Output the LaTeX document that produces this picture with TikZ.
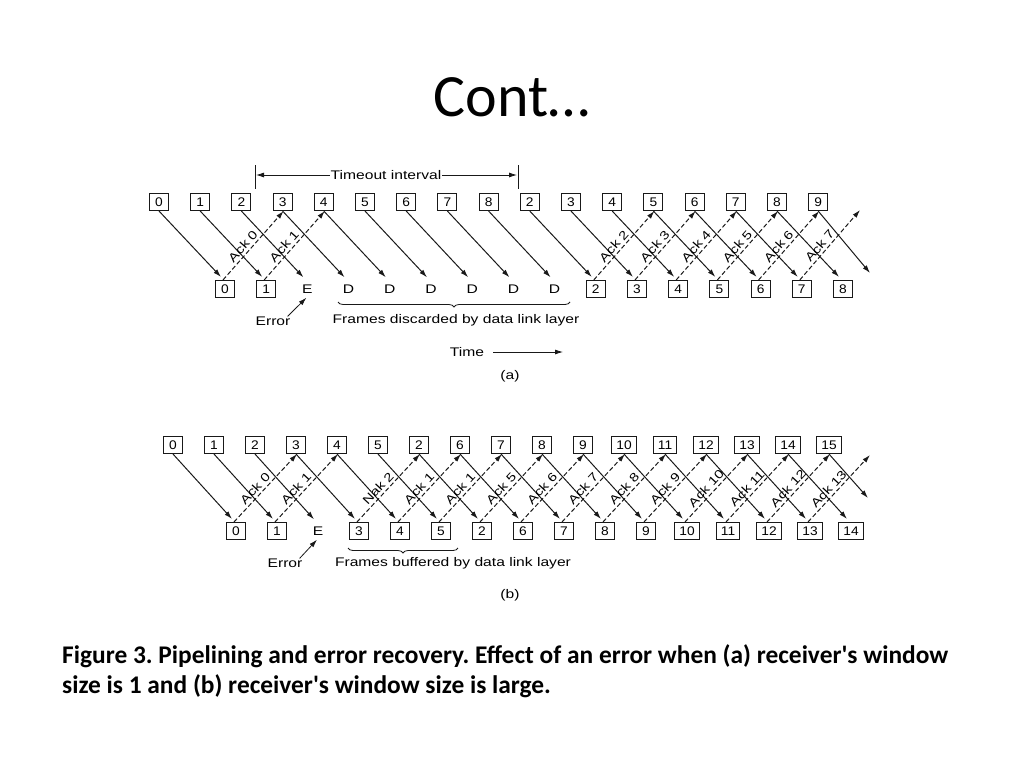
\documentclass[tikz,border=0pt]{standalone}
\usepackage{fontspec}
\setmainfont{Carlito}
\newfontfamily\labfont[FakeStretch=1.25]{Liberation Sans}
\newfontfamily\digfont[FakeStretch=1.1]{Liberation Sans}
\usetikzlibrary{arrows.meta,decorations.pathreplacing}
\frenchspacing
\begin{document}
\begin{tikzpicture}[x=1pt,y=-1pt,
  frm/.style={draw=black!90,line width=1.1pt,minimum width=19pt,minimum height=17pt,inner xsep=4.5pt,inner ysep=0pt,font=\digfont\fontsize{12.5}{13}\selectfont},
  lett/.style={minimum width=19pt,minimum height=17pt,inner sep=0pt,font=\labfont\fontsize{12.5}{14}\selectfont},
  lab/.style={font=\labfont\fontsize{12.5}{14}\selectfont,inner sep=1pt},
  sarr/.style={draw=black!90,line width=1pt,-{Latex[length=8pt,width=5pt]}},
  darr/.style={sarr,dash pattern=on 4.5pt off 2.5pt},
  ack/.style={font=\labfont\fontsize{12}{13}\selectfont,sloped,above=2pt,pos=0.42,inner sep=0.5pt},
  brc/.style={draw=black!90,line width=0.8pt,decorate,decoration={brace,mirror,amplitude=5pt}},
  capt/.style={anchor=base west,inner sep=0pt,font=\bfseries\fontsize{25.4}{30}\selectfont}]
\useasboundingbox (0,0) rectangle (1024,768);

% title
\node (title) at (512,97) {\fontsize{60}{72}\selectfont Cont\ldots};

% ---------------- (a) ----------------
\foreach \lab [count=\i from 0] in {0,1,2,3,4,5,6,7,8,2,3,4,5,6,7,8,9}
  \node[frm] (ta\i) at ({159+41.2*\i},202) {\lab};
\foreach \lab/\s [count=\i from 0] in {0/frm,1/frm,E/lett,D/lett,D/lett,D/lett,D/lett,D/lett,D/lett,2/frm,3/frm,4/frm,5/frm,6/frm,7/frm,8/frm}
  \node[\s] (ba\i) at ({225+41.2*\i},289) {\lab};
\foreach \i in {0,...,15}
  \draw[sarr] (ta\i.south) -- ([shift={(-4pt,3pt)}]ba\i.north);
\coordinate (ea) at (870,273);
\draw[sarr] (ta16.south) -- (ea);
\foreach \k/\n in {0/0,1/1,9/2,10/3,11/4,12/5,13/6}{
  \pgfmathtruncatemacro\j{\k+3}
  \draw[darr] ([xshift=-2pt]ba\k.north) -- node[ack]{Ack \n} ([xshift=1pt]ta\j.south);
}
\coordinate (fa) at (860,210);
\draw[darr] ([xshift=-2pt]ba14.north) -- node[ack]{Ack 7} (fa);

% timeout interval
\coordinate (tl1) at (255,165); \coordinate (tl2) at (255,189);
\coordinate (tr1) at (518,165); \coordinate (tr2) at (518,189);
\draw[draw=black!90,line width=1pt] (tl1) -- (tl2);
\draw[draw=black!90,line width=1pt] (tr1) -- (tr2);
\node[lab] (tout) at (386,175) {Timeout interval};
\coordinate (tla) at (256,175); \coordinate (tra) at (517,175);
\draw[sarr,line width=0.8pt] (tout.west) -- (tla);
\draw[sarr,line width=0.8pt] (tout.east) -- (tra);

% error / brace / time
\node[lab] (erra) at (273,321) {Error};
\draw[sarr,line width=0.8pt] ([shift={(-4pt,-1pt)}]erra.north east) -- ([xshift=-1pt]ba2.south);
\coordinate (bra1) at (338,302); \coordinate (bra2) at (570,302);
\draw[brc] (bra1) -- (bra2);
\node[lab] (fda) at (456,320) {Frames discarded by data link layer};
\node[lab] (time) at (467,352) {Time};
\coordinate (te) at (563,352);
\draw[sarr,line width=0.8pt] ([xshift=8pt]time.east) -- (te);
\node[lab] (capa) at (510,376) {(a)};

% ---------------- (b) ----------------
\foreach \lab [count=\i from 0] in {0,1,2,3,4,5,2,6,7,8,9,10,11,12,13,14,15}
  \node[frm] (tb\i) at ({173+41*\i},445) {\lab};
\foreach \lab/\s [count=\i from 0] in {0/frm,1/frm,E/lett,3/frm,4/frm,5/frm,2/frm,6/frm,7/frm,8/frm,9/frm,10/frm,11/frm,12/frm,13/frm,14/frm}
  \node[\s] (bb\i) at ({236+41*\i},531) {\lab};
\foreach \i in {0,...,15}
  \draw[sarr] (tb\i.south) -- ([shift={(-4pt,3pt)}]bb\i.north);
\coordinate (eb) at (868,498);
\draw[sarr] (tb16.south) -- (eb);
\foreach \k/\n in {0/Ack 0,1/Ack 1,3/Nak 2,4/Ack 1,5/Ack 1,6/Ack 5,7/Ack 6,8/Ack 7,9/Ack 8,10/Ack 9,11/Ack 10,12/Ack 11,13/Ack 12}{
  \pgfmathtruncatemacro\j{\k+3}
  \draw[darr] ([xshift=-2pt]bb\k.north) -- node[ack]{\n} ([xshift=1pt]tb\j.south);
}
\coordinate (fb) at (870,455);
\draw[darr] ([xshift=-2pt]bb14.north) -- node[ack]{Ack 13} (fb);

\node[lab] (errb) at (285,563) {Error};
\draw[sarr,line width=0.8pt] ([shift={(-4pt,-1pt)}]errb.north east) -- ([xshift=-1pt]bb2.south);
\coordinate (brb1) at (348,548); \coordinate (brb2) at (458,548);
\draw[brc] (brb1) -- (brb2);
\node[lab] (fbb) at (453,563) {Frames buffered by data link layer};
\node[lab] (capb) at (510,595) {(b)};

% caption
\node[capt] (cap1) at (62,663) {Figure 3. Pipelining and error recovery. Effect of an error when (a) receiver\textquotesingle s window};
\node[capt] (cap2) at (62,693) {size is 1 and (b) receiver\textquotesingle s window size is large.};
\end{tikzpicture}
\end{document}
